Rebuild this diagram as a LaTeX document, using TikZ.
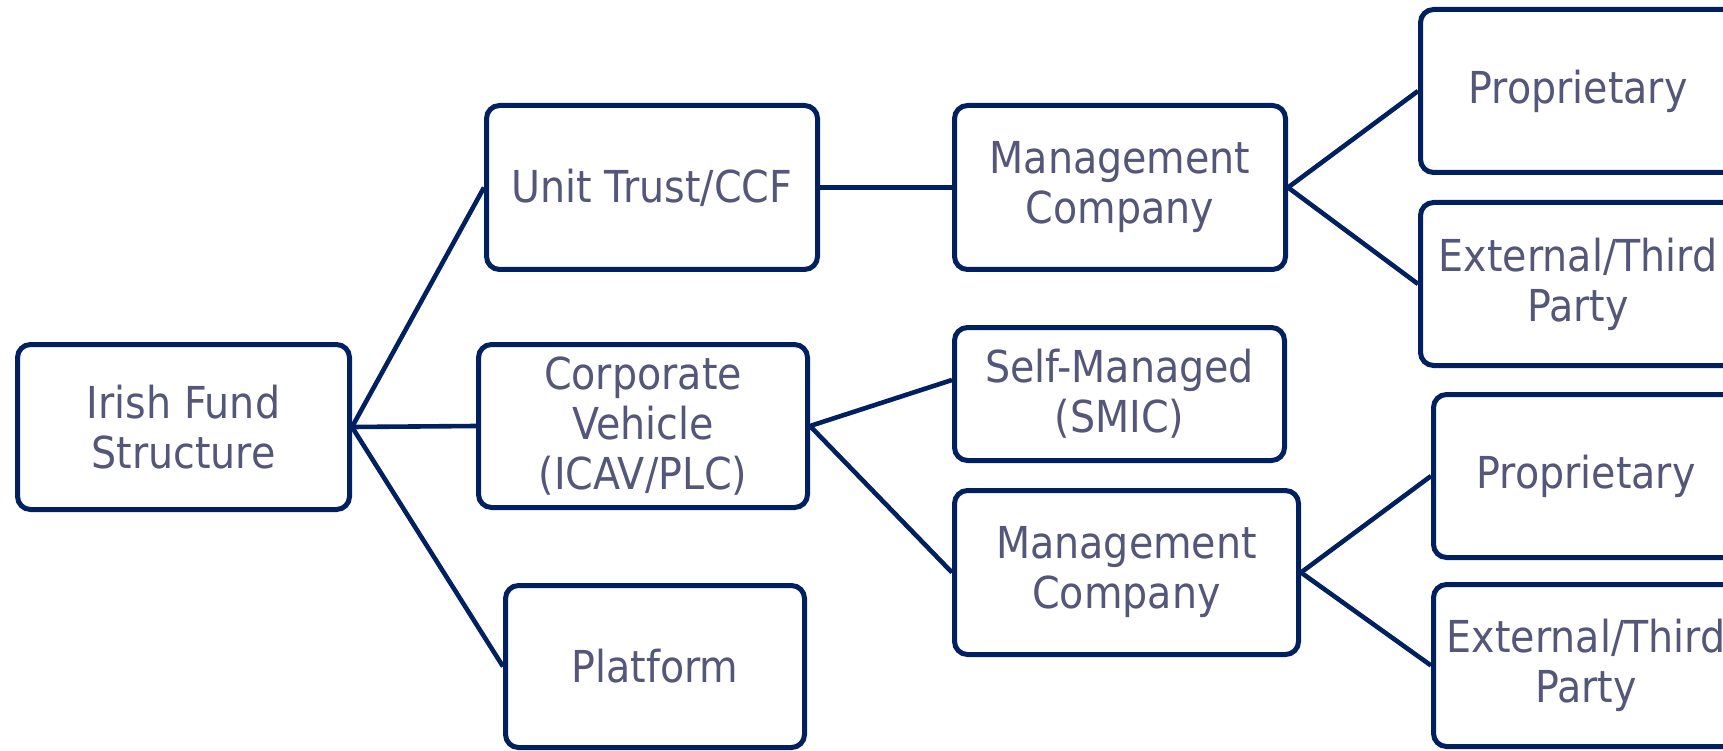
\documentclass[tikz,border=0pt]{standalone}
\usepackage{fontspec}
\setmainfont{DejaVu Sans}[FakeStretch=0.9]
\definecolor{boxblue}{RGB}{0,32,96}
\definecolor{labelgrey}{RGB}{84,86,122}
\begin{document}
\begin{tikzpicture}[x=1pt,y=-1pt,
  box/.style={draw=boxblue, line width=5pt, rounded corners=13pt, fill=white,
    align=center, inner sep=0pt, text=labelgrey,
    font=\fontsize{44}{50}\selectfont},
  link/.style={draw=boxblue, line width=4.6pt}]
\useasboundingbox (0,0) rectangle (1723,751);
\clip (0,0) rectangle (1723,751);
\fill[white] (0,0) rectangle (1723,751);

% root
\node[box, minimum width=332pt, minimum height=165pt] (irish) at (183.5,427) {Irish Fund\\Structure};

% fund vehicles
\node[box, minimum width=331pt, minimum height=164pt] (unit) at (652,187.5) {Unit Trust/CCF};
\node[box, minimum width=329pt, minimum height=163pt] (corp) at (643,426) {Corporate\\Vehicle\\(ICAV/PLC)};
\node[box, minimum width=299pt, minimum height=162pt] (plat) at (655,666.5) {Platform};

% management options
\node[box, minimum width=331pt, minimum height=164pt] (mgmtA) at (1120,187.5) {Management\\Company};
\node[box, minimum width=330pt, minimum height=133pt] (smic) at (1119.5,394) {Self-Managed\\(SMIC)};
\node[box, minimum width=344pt, minimum height=164pt] (mgmtB) at (1126.5,572.5) {Management\\Company};

% management company types
\node[box, minimum width=315pt, minimum height=163pt] (propA) at (1578,91) {Proprietary};
\node[box, minimum width=315pt, minimum height=163pt] (extA) at (1578,284) {External/Third\\Party};
\node[box, minimum width=305pt, minimum height=163pt] (propB) at (1586,476) {Proprietary};
\node[box, minimum width=305pt, minimum height=162pt] (extB) at (1586,665.5) {External/Third\\Party};

% connectors
\draw[link] (irish.east) -- (unit.west);
\draw[link] (irish.east) -- (corp.west);
\draw[link] (irish.east) -- (plat.west);
\draw[link] (unit.east) -- (mgmtA.west);
\draw[link] (corp.east) -- ([yshift=14pt]smic.west);
\draw[link] (corp.east) -- (mgmtB.west);
\draw[link] (mgmtA.east) -- (propA.west);
\draw[link] (mgmtA.east) -- (extA.west);
\draw[link] (mgmtB.east) -- (propB.west);
\draw[link] (mgmtB.east) -- (extB.west);
\end{tikzpicture}
\end{document}
